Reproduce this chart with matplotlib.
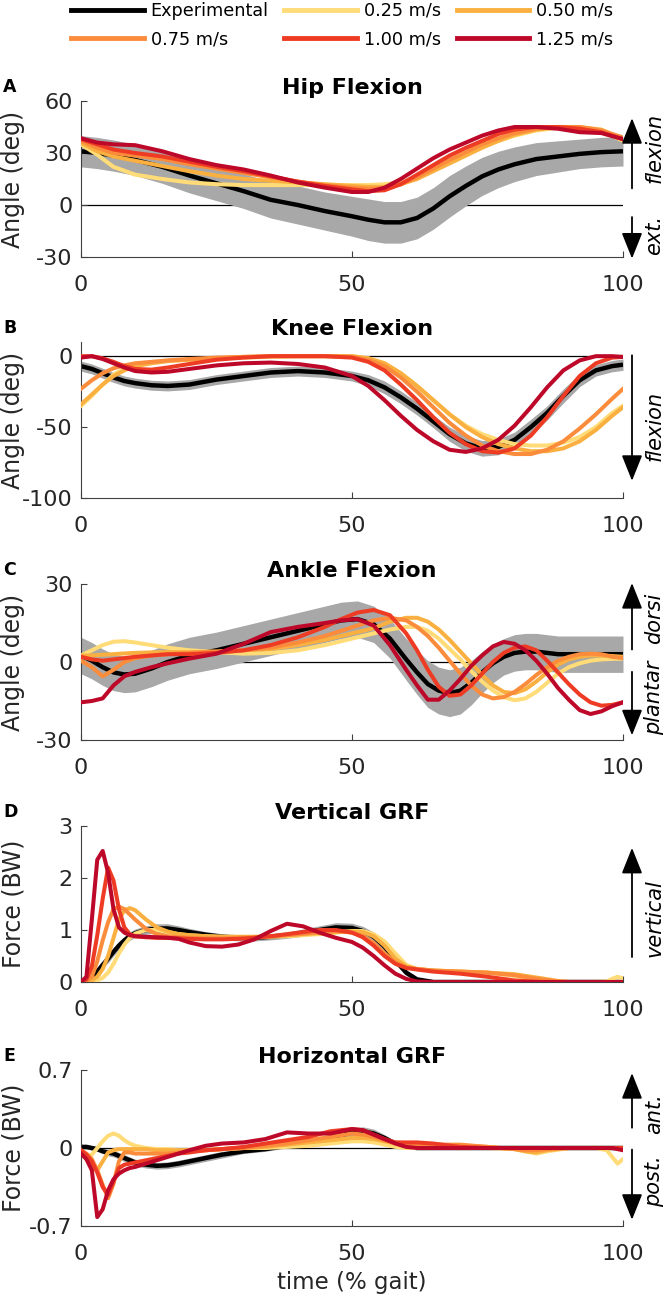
import matplotlib
matplotlib.use('Agg')
import matplotlib.pyplot as plt
from matplotlib.lines import Line2D

plt.rcParams['font.family'] = ['DejaVu Sans']

# series names and colours
speeds = ['0.25 m/s', '0.50 m/s', '0.75 m/s', '1.00 m/s', '1.25 m/s']
speed_colors = ['#ffdc78', '#fab040', '#fb8c3c', '#ee3c24', '#be082a']

# ---- hip flexion (deg) ----
hip_t = [0, 3, 6, 10, 15, 20, 25, 30, 35, 40, 45, 50, 53, 56, 59, 62, 65, 68, 71, 74, 77, 80, 84, 88, 92, 96, 100]
hip_exp = [31, 30, 28.5, 26, 22, 17, 12.5, 8, 3, 0, -3.5, -6.5, -8.5, -10, -10, -7.5, -2, 5, 11, 16.5, 20.5, 23.5, 26.5, 28, 29.5, 30.5, 31]
hip_sd = [9, 9, 9, 9, 9.5, 10, 10, 10, 10.5, 11, 11, 11.5, 12, 12, 12, 12, 12, 12, 11.5, 11, 10.5, 10, 9.5, 9, 8.5, 8.5, 8.5]
hip_025 = [35, 29, 22, 17.5, 15, 13, 12, 11.5, 11.5, 11.5, 11.5, 11.5, 11.5, 12, 13, 16, 20, 25, 29.5, 33.5, 37, 40, 43, 44.5, 44.5, 43, 37]
hip_050 = [36, 31, 28, 25.5, 22.5, 19.5, 17, 15, 14, 13, 12, 11, 10.5, 10.5, 12, 15, 19.5, 24, 28.5, 33, 37, 40.5, 43.5, 45, 45, 43.5, 38]
hip_075 = [37, 33, 30, 28.5, 26.5, 23.5, 21, 18.5, 16, 13.5, 11.5, 10, 9.5, 9.5, 12, 16, 21, 26, 30.5, 35, 38.5, 41.5, 44, 45, 45, 43, 39]
hip_100 = [38, 35, 32, 30, 28, 25, 22, 19.5, 16.5, 13.5, 11, 9, 8, 8.5, 12, 17.5, 23, 28.5, 33, 37, 41, 43.5, 45, 45, 44, 42, 38]
hip_125 = [38.5, 36, 35, 34.5, 31, 26.5, 23, 20.5, 17, 13, 10, 7.5, 7.5, 10, 15, 21, 27, 32, 36, 40, 43, 45, 45, 44, 42, 41.5, 38]

# ---- knee flexion (deg) ----
knee_t = [0, 2, 4, 6, 8, 10, 13, 16, 20, 25, 30, 35, 40, 45, 50, 53, 56, 59, 62, 65, 68, 71, 74, 77, 80, 83, 86, 89, 92, 95, 98, 100]
knee_exp = [-7, -9, -12, -15, -17.5, -19, -20.5, -21, -20, -16.5, -14, -11.5, -10.5, -11.5, -14, -17, -22, -29, -37, -46, -55, -61.5, -65, -64, -59, -50, -40, -28, -17, -10, -7, -6]
knee_sd = [3.5, 3.5, 3.5, 3.5, 3.5, 3.5, 3.5, 3.5, 3.5, 3.5, 3.5, 3.5, 3.5, 3.5, 3.5, 4, 4.5, 4.5, 4.5, 4.5, 5, 5.5, 5.5, 5.5, 5.5, 5.5, 5, 5, 4.5, 4, 4, 4]
knee_025 = [-35, -28, -20, -13, -9, -6.5, -4.5, -3, -2.5, -1.5, -1, -0.5, 0, 0, 0, -1.5, -5, -12, -21, -31, -41, -49, -55, -59, -62, -63, -63, -61, -57, -50, -40, -35]
knee_050 = [-34, -27, -20, -14, -10, -7, -5, -3.5, -2.5, -1.5, -0.5, 0, 0, 0, 0, -1.5, -5, -12, -21, -31, -41, -50, -57, -62, -65, -67, -67, -65, -60, -52, -42, -36]
knee_075 = [-23, -17, -12, -8.5, -6.5, -5, -4, -3, -2, -1, -0.5, 0, 0, 0, -0.5, -2.5, -7, -15, -25, -36, -47, -56, -63, -67, -69, -69, -66, -60, -51, -41, -30, -23]
knee_100 = [0, 0, -1.5, -4, -7, -9, -9.5, -8, -5.5, -2.5, -1, 0, 0, 0, -1, -4, -10, -20, -31, -43, -54, -62, -67, -68, -65, -56, -43, -28, -14, -5, -1, -0.5]
knee_125 = [-1, 0, -2, -5, -8, -10.5, -11.5, -11, -9, -6.5, -5, -4.5, -5.5, -8, -14, -21, -31, -42, -52, -60, -66, -67.5, -65, -59, -49, -36, -22, -10, -3, 0, 0, -0.5]

# ---- ankle flexion (deg) ----
ankle_t = [0, 2, 4, 6, 8, 10, 13, 16, 20, 25, 30, 35, 40, 45, 48, 51, 54, 57, 60, 62, 64, 66, 68, 70, 72, 74, 76, 78, 80, 82, 84, 86, 88, 90, 92, 94, 96, 98, 100]
ankle_exp = [2.5, 0.5, -2, -4, -4.8, -4.5, -2.5, 0, 2.5, 4.5, 7, 9.5, 12, 14.5, 16, 16.5, 14.5, 9, 1, -4, -8.5, -11, -12, -11, -8, -4, -0.5, 2, 3.5, 4, 4, 3.5, 3, 3, 3, 3, 3, 3, 3]
ankle_sd = [7, 7, 7, 7, 7, 7, 7, 7, 7, 7, 7, 7, 7, 7, 7, 7, 7, 7.5, 8, 8.5, 9, 9, 9, 9, 8.5, 8, 7.5, 7, 7, 7, 7, 7, 7, 7, 7, 7, 7, 7, 7]
ankle_025 = [2.5, 4.5, 6.5, 7.8, 8, 7.5, 6.5, 5.5, 4.5, 3.8, 3.2, 3.5, 4.5, 6.5, 8, 9.5, 11, 12.5, 13.5, 13.5, 12, 9, 5, 1, -3.5, -7.5, -11, -13.5, -14.7, -14, -11.5, -8, -4.5, -2, -0.5, 0.5, 1, 1.2, 1.3]
ankle_050 = [2.5, 2.5, 2.8, 3, 3.3, 3.5, 3.7, 3.8, 3.8, 4, 4.5, 5, 6.5, 8.5, 10, 11.5, 13, 15.5, 17, 17, 15.5, 12.5, 8.5, 4, -0.5, -5, -9, -11.5, -12, -10.5, -7.5, -4, -1, 1, 2, 2.5, 2.5, 2.3, 2]
ankle_075 = [0.5, -2, -5.5, -3, 0, 1.5, 2.5, 3, 3.5, 4, 4.5, 5.5, 7.5, 10, 12, 14, 16, 17, 16, 13.5, 10, 5.5, 0.5, -4.5, -9, -12.5, -14, -13.5, -11.5, -8.5, -5, -2, 0.5, 2, 3, 3.2, 3, 2, 1.5]
ankle_100 = [2, 1, 0.5, 1, 1.5, 2, 2.5, 3, 3, 3.5, 4.5, 6.5, 9.5, 13.5, 16.5, 19, 20, 18, 11, 4.5, -3, -9.5, -13, -12.5, -9, -4.5, 0, 3.5, 5.5, 6, 4.5, 0.5, -4, -8.5, -12.5, -15.5, -16.8, -16.5, -15.5]
ankle_125 = [-15.5, -15, -14, -9, -5.5, -3.8, -2, -0.5, 1.3, 3.2, 7, 11.5, 13.5, 15, 16, 16.5, 14, 6.5, -3, -9, -14.5, -14.5, -11, -6.5, -1.5, 2.5, 6, 7.7, 7, 4.5, 0.5, -4.5, -10, -14.5, -18.5, -20, -19, -17, -15.5]

# ---- vertical GRF (BW) ----
vgrf_t = [0, 1, 2, 3, 4, 5, 6, 7, 8, 9, 10, 12, 14, 16, 18, 20, 23, 26, 29, 32, 35, 38, 41, 44, 47, 50, 52, 54, 56, 58, 60, 62, 65, 70, 75, 80, 85, 88, 90, 95, 97, 98, 99, 100]
vgrf_exp = [0, 0.02, 0.08, 0.2, 0.33, 0.45, 0.58, 0.7, 0.8, 0.88, 0.94, 1.0, 1.03, 1.03, 1.0, 0.96, 0.91, 0.87, 0.85, 0.85, 0.87, 0.9, 0.95, 1.0, 1.05, 1.04, 0.98, 0.87, 0.68, 0.42, 0.18, 0.05, 0, 0, 0, 0, 0, 0, 0, 0, 0, 0, 0, 0]
vgrf_sd = [0.03, 0.04, 0.05, 0.06, 0.07, 0.08, 0.08, 0.08, 0.08, 0.08, 0.08, 0.08, 0.09, 0.09, 0.08, 0.07, 0.06, 0.06, 0.06, 0.06, 0.06, 0.06, 0.07, 0.08, 0.09, 0.09, 0.09, 0.09, 0.09, 0.08, 0.06, 0.04, 0.02, 0, 0, 0, 0, 0, 0, 0, 0, 0, 0, 0]
vgrf_025 = [0, 0, 0.01, 0.03, 0.08, 0.18, 0.35, 0.55, 0.72, 0.85, 0.93, 1.0, 1.0, 0.96, 0.92, 0.9, 0.88, 0.87, 0.86, 0.86, 0.87, 0.88, 0.9, 0.92, 0.95, 0.98, 0.98, 0.92, 0.78, 0.55, 0.33, 0.25, 0.22, 0.2, 0.18, 0.12, 0.02, 0, 0, 0, 0.01, 0.06, 0.1, 0.07]
vgrf_050 = [0, 0.01, 0.03, 0.1, 0.25, 0.5, 0.85, 1.2, 1.38, 1.42, 1.38, 1.2, 1.05, 0.97, 0.92, 0.9, 0.88, 0.87, 0.87, 0.87, 0.88, 0.9, 0.92, 0.94, 0.96, 0.97, 0.96, 0.88, 0.7, 0.45, 0.3, 0.25, 0.22, 0.2, 0.18, 0.15, 0.07, 0.02, 0, 0, 0, 0, 0, 0]
vgrf_075 = [0, 0.02, 0.1, 0.4, 0.8, 1.15, 1.4, 1.45, 1.4, 1.3, 1.2, 1.02, 0.92, 0.88, 0.86, 0.85, 0.84, 0.84, 0.85, 0.86, 0.88, 0.9, 0.93, 0.96, 0.98, 0.95, 0.88, 0.75, 0.55, 0.38, 0.28, 0.25, 0.22, 0.2, 0.18, 0.13, 0.05, 0.01, 0, 0, 0, 0, 0, 0]
vgrf_100 = [0, 0.05, 0.3, 0.9, 1.6, 2.2, 1.95, 1.4, 1.05, 0.92, 0.88, 0.86, 0.85, 0.85, 0.84, 0.83, 0.82, 0.82, 0.83, 0.85, 0.88, 0.92, 0.96, 1.0, 1.0, 0.95, 0.86, 0.7, 0.5, 0.35, 0.27, 0.24, 0.2, 0.16, 0.1, 0.03, 0, 0, 0, 0, 0, 0, 0, 0]
vgrf_125 = [0, 0.1, 1.2, 2.35, 2.52, 2.1, 1.4, 1.05, 0.95, 0.9, 0.88, 0.87, 0.86, 0.85, 0.83, 0.76, 0.69, 0.68, 0.72, 0.82, 0.98, 1.12, 1.07, 0.95, 0.85, 0.77, 0.66, 0.5, 0.32, 0.16, 0.06, 0.01, 0, 0, 0, 0, 0, 0, 0, 0, 0, 0, 0, 0]

# ---- horizontal GRF (BW) ----
hgrf_t = [0, 1, 2, 3, 4, 5, 6, 7, 8, 9, 10, 12, 14, 16, 18, 20, 23, 26, 30, 34, 38, 42, 46, 50, 52, 54, 56, 58, 60, 62, 65, 70, 75, 80, 82, 84, 86, 90, 95, 97, 98, 99, 100]
hgrf_exp = [0.01, 0.01, 0.0, -0.01, -0.03, -0.04, -0.05, -0.07, -0.09, -0.11, -0.13, -0.15, -0.16, -0.155, -0.14, -0.12, -0.09, -0.06, -0.03, -0.01, 0.02, 0.05, 0.09, 0.14, 0.15, 0.13, 0.09, 0.04, 0.01, 0, 0, 0, 0, 0, 0, 0, 0, 0, 0, 0, 0, 0, 0]
hgrf_sd = [0.02, 0.02, 0.02, 0.02, 0.02, 0.03, 0.03, 0.03, 0.03, 0.03, 0.03, 0.03, 0.03, 0.03, 0.03, 0.03, 0.03, 0.03, 0.02, 0.02, 0.02, 0.03, 0.03, 0.04, 0.04, 0.04, 0.03, 0.02, 0.01, 0.01, 0, 0, 0, 0, 0, 0, 0, 0, 0, 0, 0, 0, 0]
hgrf_025 = [-0.05, -0.08, -0.06, 0.0, 0.06, 0.11, 0.13, 0.11, 0.07, 0.04, 0.02, 0.0, -0.01, -0.01, -0.02, -0.02, -0.02, -0.01, 0.0, 0.0, 0.01, 0.02, 0.04, 0.06, 0.06, 0.05, 0.03, 0.01, 0.0, 0.0, 0.0, 0.01, 0.0, -0.01, -0.03, -0.05, -0.03, 0, 0, -0.02, -0.08, -0.14, -0.1]
hgrf_050 = [-0.03, -0.1, -0.17, -0.2, -0.12, -0.04, -0.02, -0.01, -0.01, -0.01, -0.01, -0.01, -0.02, -0.02, -0.02, -0.02, -0.02, -0.01, 0.0, 0.01, 0.03, 0.05, 0.07, 0.09, 0.09, 0.08, 0.06, 0.04, 0.03, 0.03, 0.02, 0.02, 0.01, -0.01, -0.03, -0.04, -0.02, 0, 0, 0, 0, 0, 0]
hgrf_075 = [-0.02, -0.05, -0.1, -0.2, -0.33, -0.45, -0.32, -0.12, -0.04, -0.04, -0.05, -0.05, -0.05, -0.05, -0.04, -0.03, -0.02, -0.01, 0.0, 0.02, 0.04, 0.07, 0.1, 0.13, 0.12, 0.1, 0.07, 0.05, 0.04, 0.03, 0.03, 0.03, 0.01, -0.01, -0.02, -0.02, -0.01, 0, 0, 0, 0, 0, 0]
hgrf_100 = [-0.02, -0.06, -0.12, -0.22, -0.35, -0.42, -0.3, -0.18, -0.15, -0.14, -0.13, -0.11, -0.09, -0.07, -0.05, -0.04, -0.02, -0.01, 0.01, 0.04, 0.07, 0.1, 0.15, 0.17, 0.16, 0.12, 0.08, 0.05, 0.05, 0.05, 0.04, 0.01, 0, 0, 0, 0, 0, 0, 0, 0, 0, 0, 0]
hgrf_125 = [-0.05, -0.1, -0.2, -0.62, -0.55, -0.38, -0.28, -0.23, -0.2, -0.18, -0.17, -0.14, -0.11, -0.08, -0.05, -0.02, 0.02, 0.04, 0.05, 0.08, 0.14, 0.13, 0.13, 0.17, 0.16, 0.12, 0.08, 0.04, 0.01, 0.0, 0, 0, 0, 0, 0, 0, 0, 0, 0, 0, 0, -0.01, -0.02]

panels = [
    dict(letter='A', title='Hip Flexion', t=hip_t, exp=hip_exp, sd=hip_sd,
         sims=[hip_025, hip_050, hip_075, hip_100, hip_125],
         ylim=(-30, 60), yticks=[-30, 0, 30, 60], ylabels=['-30', '0', '30', '60'],
         ylabel='Angle (deg)', zero=True,
         arrows=[(0.44, 0.89, 'flexion', 0.70), (0.256, -0.01, 'ext.', 0.14)]),
    dict(letter='B', title='Knee Flexion', t=knee_t, exp=knee_exp, sd=knee_sd,
         sims=[knee_025, knee_050, knee_075, knee_100, knee_125],
         ylim=(-100, 10), yticks=[-100, -50, 0], ylabels=['-100', '-50', '0'],
         ylabel='Angle (deg)', zero=True,
         arrows=[(0.915, 0.11, 'flexion', 0.46)]),
    dict(letter='C', title='Ankle Flexion', t=ankle_t, exp=ankle_exp, sd=ankle_sd,
         sims=[ankle_025, ankle_050, ankle_075, ankle_100, ankle_125],
         ylim=(-30, 30), yticks=[-30, 0, 30], ylabels=['-30', '0', '30'],
         ylabel='Angle (deg)', zero=True,
         arrows=[(0.58, 1.006, 'dorsi', 0.78), (0.437, 0.03, 'plantar', 0.27)]),
    dict(letter='D', title='Vertical GRF', t=vgrf_t, exp=vgrf_exp, sd=vgrf_sd,
         sims=[vgrf_025, vgrf_050, vgrf_075, vgrf_100, vgrf_125],
         ylim=(0, 3), yticks=[0, 1, 2, 3], ylabels=['0', '1', '2', '3'],
         ylabel='Force (BW)', zero=False,
         arrows=[(0.16, 0.86, 'vertical', 0.41)]),
    dict(letter='E', title='Horizontal GRF', t=hgrf_t, exp=hgrf_exp, sd=hgrf_sd,
         sims=[hgrf_025, hgrf_050, hgrf_075, hgrf_100, hgrf_125],
         ylim=(-0.7, 0.7), yticks=[-0.7, 0, 0.7], ylabels=['-0.7', '0', '0.7'],
         ylabel='Force (BW)', zero=True,
         arrows=[(0.63, 0.98, 'ant.', 0.72), (0.49, 0.04, 'post.', 0.29)]),
]

W, H = 667, 1304
fig = plt.figure(figsize=(W / 100, H / 100), dpi=100)

ax_left, ax_right = 81, 623
ax_tops = [101, 342, 584, 826, 1070]
ax_h = 156
spine_col = '#404040'
txt_col = '#262626'

for p, top in zip(panels, ax_tops):
    ax = fig.add_axes([ax_left / W, 1 - (top + ax_h) / H, (ax_right - ax_left) / W, ax_h / H])
    lo = [e - s for e, s in zip(p['exp'], p['sd'])]
    hi = [e + s for e, s in zip(p['exp'], p['sd'])]
    if p['zero']:
        ax.axhline(0, color='k', lw=0.9, zorder=0)
    ax.fill_between(p['t'], lo, hi, color='#a8a8a8', lw=0, zorder=1)
    ax.plot(p['t'], p['exp'], color='k', lw=3.2, zorder=2, solid_capstyle='butt')
    for vals, c in zip(p['sims'], speed_colors):
        ax.plot(p['t'], vals, color=c, lw=2.9, zorder=3)

    ax.set_xlim(0, 100)
    ax.set_ylim(*p['ylim'])
    ax.set_xticks([0, 50, 100])
    ax.set_yticks(p['yticks'])
    ax.set_yticklabels(p['ylabels'])
    for s in ['top', 'right']:
        ax.spines[s].set_visible(False)
    for s in ['left', 'bottom']:
        ax.spines[s].set_color(spine_col)
        ax.spines[s].set_linewidth(0.8)
    ax.tick_params(direction='in', length=4, width=0.8, color=spine_col,
                   labelsize=16, labelcolor=txt_col)
    ax.tick_params(axis='x', pad=13)
    ax.tick_params(axis='y', pad=6)
    ax.set_ylabel(p['ylabel'], fontsize=17, color=txt_col)
    ax.yaxis.set_label_coords(-0.103, 0.5)
    ax.set_title(p['title'], fontsize=16, fontweight='bold', color='k', pad=5)

    for tail, head, label, ty in p['arrows']:
        ax.annotate('', xy=(1.0166, head), xytext=(1.0166, tail), xycoords='axes fraction',
                    annotation_clip=False,
                    arrowprops=dict(arrowstyle='-|>,head_length=0.8,head_width=0.32',
                                    mutation_scale=20, lw=1.3, color='k', shrinkA=0, shrinkB=0))
        ax.text(1.058, ty, label, transform=ax.transAxes, rotation=90, style='italic',
                fontsize=15, ha='center', va='center', color='k')

    fig.text(3 / W, 1 - (top - 14) / H, p['letter'], fontsize=12.5, fontweight='bold',
             ha='left', va='center')

fig.text(352 / W, 1 - 1283 / H, 'time (% gait)', fontsize=16.5, ha='center', va='center', color=txt_col)

# legend, filled row-wise in the reference
names = ['Experimental'] + speeds
cols = ['k'] + speed_colors
handles = [Line2D([0], [0], color=c, lw=3.5) for c in cols]
order = [0, 3, 1, 4, 2, 5]
fig.legend([handles[i] for i in order], [names[i] for i in order], ncol=3,
           loc='upper center', bbox_to_anchor=(0.513, 1.0), frameon=False,
           fontsize=12.7, handlelength=4.1, handletextpad=0.4, columnspacing=0.9,
           labelspacing=0.6, borderaxespad=0, borderpad=0.1)

fig.savefig('out.png', dpi=100)
